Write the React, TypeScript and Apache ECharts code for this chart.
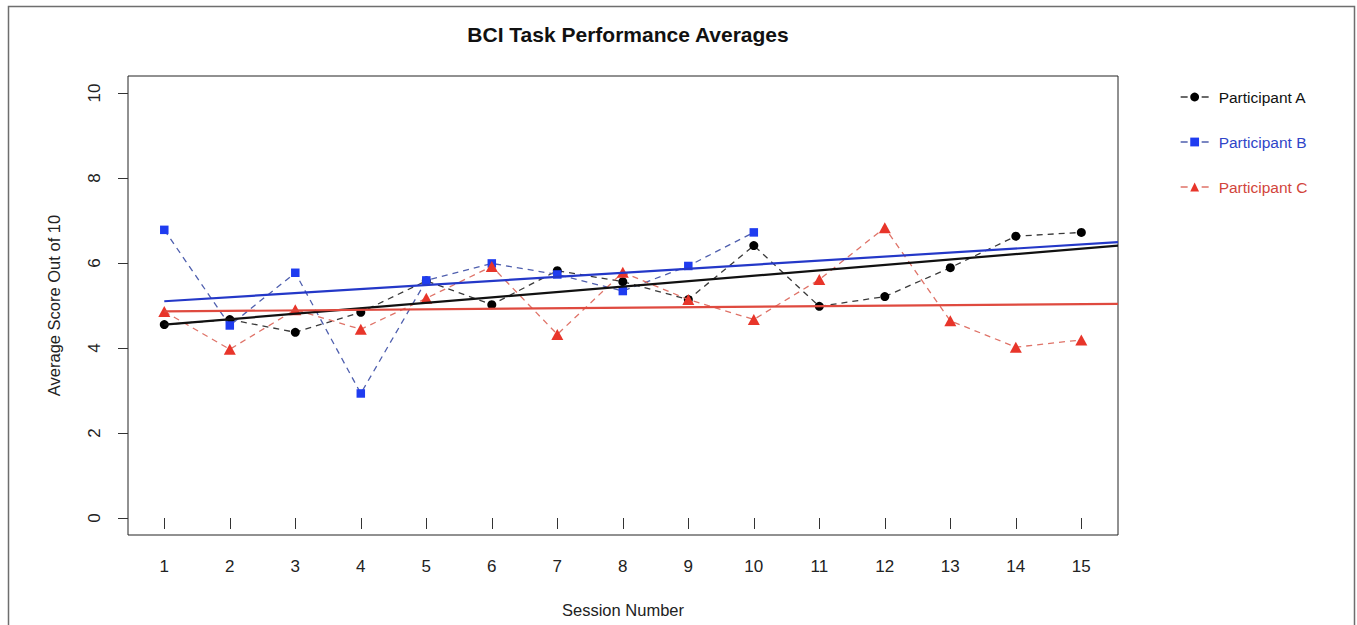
import React, { useEffect, useRef } from "react";
import * as echarts from "echarts";

const sessions = [1, 2, 3, 4, 5, 6, 7, 8, 9, 10, 11, 12, 13, 14, 15];
const yTicks = [0, 2, 4, 6, 8, 10];
const participantA = [4.55, 4.67, 4.37, 4.84, 5.58, 5.02, 5.82, 5.56, 5.14, 6.41, 4.98, 5.21, 5.89, 6.63, 6.72];
const participantB = [6.78, 4.53, 5.77, 2.93, 5.59, 5.99, 5.73, 5.34, 5.93, 6.72];
const participantC = [4.86, 3.97, 4.9, 4.44, 5.17, 5.92, 4.32, 5.78, 5.14, 4.67, 5.61, 6.83, 4.64, 4.02, 4.19];
const trendX = [1, 15.56];
const trendA = [4.55, 6.41];
const trendB = [5.1, 6.49];
const trendC = [4.86, 5.04];

const FONT = "'Liberation Sans', Arial, Helvetica, sans-serif";

function pairs(xs: number[], ys: number[]) {
  return ys.map((y, i) => [xs[i], y]);
}

export default function App() {
  const ref = useRef<HTMLDivElement>(null);
  useEffect(() => {
    if (!ref.current) return;
    const chart = echarts.init(ref.current, null, { renderer: "svg" });
    const dash = [6, 5];
    chart.setOption({
      animation: false,
      backgroundColor: "#ffffff",
      textStyle: { fontFamily: FONT },
      title: {
        text: "BCI Task Performance Averages",
        left: 623,
        top: 19,
        textAlign: "center",
        textStyle: { fontFamily: FONT, fontSize: 21, fontWeight: "bold", color: "#111" },
      },
      graphic: [
        {
          type: "rect",
          shape: { x: 8.5, y: 6.5, width: 1346, height: 650 },
          style: { fill: "none", stroke: "#6e6e6e", lineWidth: 1.5 },
          silent: true,
          z: -1,
        },
      ],
      legend: {
        orient: "vertical",
        left: 1175,
        top: 83,
        itemWidth: 28,
        itemHeight: 11,
        itemGap: 27,
        lineStyle: { type: [7, 14], width: 1.3 },
        textStyle: { fontFamily: FONT, fontSize: 15.5, lineHeight: 18, padding: [0, 0, 0, 5] },
        data: [
          { name: "Participant A", textStyle: { color: "#111" } },
          { name: "Participant B", textStyle: { color: "#2f45c8" } },
          { name: "Participant C", textStyle: { color: "#d2453c" } },
        ],
      },
      grid: {
        left: 128,
        right: 239,
        top: 76,
        bottom: 90,
        show: true,
        borderColor: "#222",
        borderWidth: 1,
        backgroundColor: "transparent",
      },
      xAxis: {
        type: "value",
        min: 0.446,
        max: 15.56,
        name: "Session Number",
        nameLocation: "middle",
        nameGap: 66,
        nameTextStyle: { fontFamily: FONT, fontSize: 16.5, color: "#222" },
        axisLine: { show: false },
        axisTick: { show: true, length: 11, customValues: sessions, lineStyle: { color: "#333" } },
        axisLabel: {
          customValues: sessions,
          margin: 23,
          fontFamily: FONT,
          fontSize: 17,
          color: "#222",
        },
        splitLine: { show: false },
      },
      yAxis: {
        type: "value",
        min: -0.4,
        max: 10.4,
        name: "Average Score Out of 10",
        nameLocation: "middle",
        nameGap: 66,
        nameRotate: 90,
        nameTextStyle: { fontFamily: FONT, fontSize: 16.5, color: "#222" },
        axisLine: { show: false },
        axisTick: { show: true, length: 10, customValues: yTicks, lineStyle: { color: "#333" } },
        axisLabel: {
          customValues: yTicks,
          rotate: 90,
          margin: 25,
          fontFamily: FONT,
          fontSize: 17,
          color: "#222",
        },
        splitLine: { show: false },
      },
      series: [
        {
          name: "Participant A",
          type: "line",
          data: pairs(sessions, participantA),
          symbol: "circle",
          symbolSize: 9,
          itemStyle: { color: "#000" },
          lineStyle: { color: "#3a3a3a", width: 1.3, type: dash },
          z: 3,
        },
        {
          name: "Participant B",
          type: "line",
          data: pairs(sessions, participantB),
          symbol: "rect",
          symbolSize: 8.5,
          itemStyle: { color: "#1f3cf0" },
          lineStyle: { color: "#4f5fae", width: 1.3, type: dash },
          z: 4,
        },
        {
          name: "Participant C",
          type: "line",
          data: pairs(sessions, participantC),
          symbol: "triangle",
          symbolSize: [12, 11],
          itemStyle: { color: "#e8352a" },
          lineStyle: { color: "#df7368", width: 1.3, type: dash },
          z: 5,
        },
        {
          name: "Trend A",
          type: "line",
          data: pairs(trendX, trendA),
          symbol: "none",
          lineStyle: { color: "#111", width: 2.2 },
          z: 6,
        },
        {
          name: "Trend B",
          type: "line",
          data: pairs(trendX, trendB),
          symbol: "none",
          lineStyle: { color: "#2438c8", width: 2.2 },
          z: 6,
        },
        {
          name: "Trend C",
          type: "line",
          data: pairs(trendX, trendC),
          symbol: "none",
          lineStyle: { color: "#df4a3f", width: 2.2 },
          z: 6,
        },
      ],
    });
    return () => chart.dispose();
  }, []);
  return (
    <div
      ref={ref}
      style={{ position: "fixed", left: 0, top: 0, width: 1357, height: 625, background: "#fff" }}
    />
  );
}
